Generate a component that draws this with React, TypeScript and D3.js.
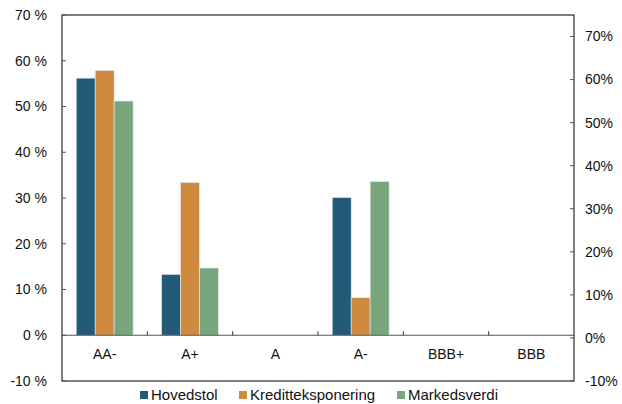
import React from "react";
import * as d3 from "d3";

const categories = ["AA-", "A+", "A", "A-", "BBB+", "BBB"];
const seriesNames = ["Hovedstol", "Kreditteksponering", "Markedsverdi"];
const hovedstol = [56.2, 13.3, 0, 30.1, 0, 0];
const kreditt = [57.9, 33.4, 0, 8.2, 0, 0];
const markedsverdi = [51.2, 14.7, 0, 33.6, 0, 0];
const leftTicks = [-10, 0, 10, 20, 30, 40, 50, 60, 70];
const rightTicks = [-10, 0, 10, 20, 30, 40, 50, 60, 70];
const colors = ["#235A78", "#CF8A40", "#78A57C"];

export default function App() {
  const W = 622, H = 404;
  const L = 62, R = 574, T = 15, B = 381;
  const series = [hovedstol, kreditt, markedsverdi];
  const y = d3.scaleLinear().domain([-10, 70]).range([B, T]);
  const y2 = d3.scaleLinear().domain([-10, 75]).range([B, T]);
  const x = d3.scaleBand().domain(categories).range([L, R]).paddingInner(0).paddingOuter(0);
  const bw = x.bandwidth() / 4.5;
  const inner = d3.scaleBand().domain(seriesNames).range([0, bw * 3]);
  const font = "'Liberation Sans', Arial, sans-serif";
  const fs = 14;
  const y0 = y(0);
  const legend = [
    { name: seriesNames[0], x: 140 },
    { name: seriesNames[1], x: 239 },
    { name: seriesNames[2], x: 397 },
  ];
  return (
    <svg width={W} height={H} style={{ position: "absolute", left: 0, top: 0 }} fontFamily={font}>
      <rect width={W} height={H} fill="#fff" />
      {categories.map((c, i) =>
        series.map((s, j) => {
          const v = s[i];
          if (v === 0) return null;
          const x0 = (x(c) as number) + bw * 0.75 + (inner(seriesNames[j]) as number);
          return (
            <rect key={c + j} x={x0} y={y(v)} width={bw} height={y0 - y(v)}
              fill={colors[j]} stroke="#e8eef0" strokeWidth={0.6} />
          );
        })
      )}
      <line x1={L} x2={R} y1={y0} y2={y0} stroke="#555" strokeWidth={1.2} />
      {categories.slice(1).map((c) => (
        <line key={c} x1={x(c)} x2={x(c)} y1={y0 - 4} y2={y0} stroke="#333" />
      ))}
      <rect x={L} y={T} width={R - L} height={B - T} fill="none" stroke="#000" strokeWidth={1} />
      {leftTicks.map((t) => (
        <g key={"l" + t}>
          <line x1={L} x2={L + 4} y1={y(t)} y2={y(t)} stroke="#555" />
          <text x={47} y={y(t)} dy="0.35em" textAnchor="end" fontSize={fs} fill="#111">
            {t + " %"}
          </text>
        </g>
      ))}
      {rightTicks.map((t) => (
        <g key={"r" + t}>
          <line x1={R - 4} x2={R} y1={y2(t)} y2={y2(t)} stroke="#555" />
          <text x={585} y={y2(t)} dy="0.35em" textAnchor="start" fontSize={fs} fill="#111">
            {t + "%"}
          </text>
        </g>
      ))}
      {categories.map((c) => (
        <text key={"c" + c} x={(x(c) as number) + x.bandwidth() / 2} y={354} dy="0.35em"
          textAnchor="middle" fontSize={fs} fill="#111">{c}</text>
      ))}
      {legend.map((l, i) => (
        <g key={l.name}>
          <rect x={l.x} y={391} width={8} height={8} fill={colors[i]} />
          <text x={l.x + 11} y={395} dy="0.35em" fontSize={15} fill="#111">{l.name}</text>
        </g>
      ))}
    </svg>
  );
}
